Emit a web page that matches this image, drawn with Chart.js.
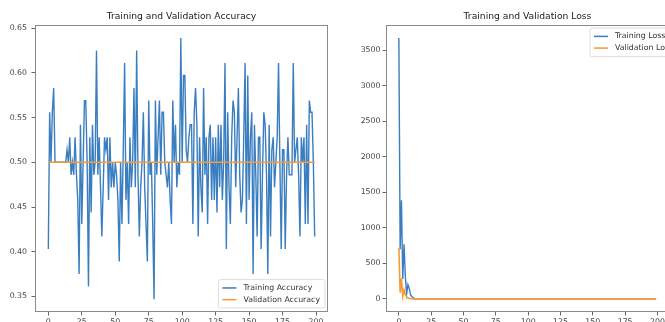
<!DOCTYPE html>
<html>
<head>
<meta charset="utf-8">
<script src="https://cdn.jsdelivr.net/npm/chart.js@4.4.1/dist/chart.umd.min.js"></script>
<style>
    body { margin: 0; background: #fff; overflow: hidden; width: 665px; height: 322px; position: relative; }
    canvas { position: absolute; top: 0; }
    #accChart { left: 0; }
    #lossChart { left: 345px; }
</style>
</head>
<body>
<canvas id="accChart" width="335" height="322"></canvas>
<canvas id="lossChart" width="340" height="322"></canvas>
<script>
// values, one per epoch (0..199)
const trainAcc = [
    0.403, 0.556, 0.500, 0.556, 0.583, 0.500, 0.500, 0.500, 0.500, 0.500, 0.500, 0.500, 0.500, 0.500, 0.514, 0.500, 0.528, 0.486, 0.500, 0.486,
    0.528, 0.486, 0.458, 0.375, 0.542, 0.431, 0.500, 0.569, 0.569, 0.500, 0.361, 0.528, 0.444, 0.542, 0.486, 0.500, 0.625, 0.486, 0.528, 0.472,
    0.417, 0.472, 0.528, 0.514, 0.528, 0.458, 0.528, 0.472, 0.500, 0.472, 0.500, 0.486, 0.458, 0.389, 0.500, 0.431, 0.514, 0.611, 0.458, 0.500,
    0.431, 0.528, 0.472, 0.500, 0.583, 0.472, 0.625, 0.486, 0.417, 0.472, 0.500, 0.556, 0.472, 0.431, 0.389, 0.569, 0.486, 0.500, 0.431, 0.347,
    0.569, 0.486, 0.528, 0.569, 0.486, 0.556, 0.556, 0.500, 0.486, 0.472, 0.500, 0.458, 0.431, 0.569, 0.500, 0.542, 0.472, 0.500, 0.486, 0.639,
    0.500, 0.597, 0.597, 0.514, 0.500, 0.528, 0.542, 0.542, 0.431, 0.556, 0.583, 0.542, 0.417, 0.528, 0.472, 0.444, 0.583, 0.486, 0.528, 0.431,
    0.528, 0.542, 0.458, 0.528, 0.458, 0.528, 0.444, 0.542, 0.472, 0.542, 0.458, 0.500, 0.611, 0.403, 0.556, 0.472, 0.431, 0.528, 0.569, 0.556,
    0.472, 0.528, 0.583, 0.486, 0.444, 0.458, 0.528, 0.611, 0.431, 0.597, 0.458, 0.528, 0.556, 0.375, 0.542, 0.486, 0.417, 0.528, 0.528, 0.403,
    0.486, 0.556, 0.542, 0.486, 0.375, 0.542, 0.417, 0.514, 0.528, 0.472, 0.500, 0.528, 0.611, 0.500, 0.403, 0.514, 0.514, 0.403, 0.486, 0.528,
    0.486, 0.486, 0.486, 0.611, 0.500, 0.514, 0.528, 0.486, 0.417, 0.528, 0.500, 0.528, 0.431, 0.542, 0.431, 0.569, 0.556, 0.556, 0.500, 0.417
];

const valAcc = [
    0.5, 0.5, 0.5, 0.5, 0.5, 0.5, 0.5, 0.5, 0.5, 0.5, 0.5, 0.5, 0.5, 0.5, 0.5, 0.5, 0.5, 0.5, 0.5, 0.5,
    0.5, 0.5, 0.5, 0.5, 0.5, 0.5, 0.5, 0.5, 0.5, 0.5, 0.5, 0.5, 0.5, 0.5, 0.5, 0.5, 0.5, 0.5, 0.5, 0.5,
    0.5, 0.5, 0.5, 0.5, 0.5, 0.5, 0.5, 0.5, 0.5, 0.5, 0.5, 0.5, 0.5, 0.5, 0.5, 0.5, 0.5, 0.5, 0.5, 0.5,
    0.5, 0.5, 0.5, 0.5, 0.5, 0.5, 0.5, 0.5, 0.5, 0.5, 0.5, 0.5, 0.5, 0.5, 0.5, 0.5, 0.5, 0.5, 0.5, 0.5,
    0.5, 0.5, 0.5, 0.5, 0.5, 0.5, 0.5, 0.5, 0.5, 0.5, 0.5, 0.5, 0.5, 0.5, 0.5, 0.5, 0.5, 0.5, 0.5, 0.5,
    0.5, 0.5, 0.5, 0.5, 0.5, 0.5, 0.5, 0.5, 0.5, 0.5, 0.5, 0.5, 0.5, 0.5, 0.5, 0.5, 0.5, 0.5, 0.5, 0.5,
    0.5, 0.5, 0.5, 0.5, 0.5, 0.5, 0.5, 0.5, 0.5, 0.5, 0.5, 0.5, 0.5, 0.5, 0.5, 0.5, 0.5, 0.5, 0.5, 0.5,
    0.5, 0.5, 0.5, 0.5, 0.5, 0.5, 0.5, 0.5, 0.5, 0.5, 0.5, 0.5, 0.5, 0.5, 0.5, 0.5, 0.5, 0.5, 0.5, 0.5,
    0.5, 0.5, 0.5, 0.5, 0.5, 0.5, 0.5, 0.5, 0.5, 0.5, 0.5, 0.5, 0.5, 0.5, 0.5, 0.5, 0.5, 0.5, 0.5, 0.5,
    0.5, 0.5, 0.5, 0.5, 0.5, 0.5, 0.5, 0.5, 0.5, 0.5, 0.5, 0.5, 0.5, 0.5, 0.5, 0.5, 0.5, 0.5, 0.5, 0.5
];

const trainLoss = [
    3670, 700, 1390, 280, 770, 320, 70, 200, 150, 60, 35, 20, 8, 3, 1.2, 0.69, 0.69, 0.69, 0.69, 0.69,
    0.69, 0.69, 0.69, 0.69, 0.69, 0.69, 0.69, 0.69, 0.69, 0.69, 0.69, 0.69, 0.69, 0.69, 0.69, 0.69, 0.69, 0.69, 0.69, 0.69,
    0.69, 0.69, 0.69, 0.69, 0.69, 0.69, 0.69, 0.69, 0.69, 0.69, 0.69, 0.69, 0.69, 0.69, 0.69, 0.69, 0.69, 0.69, 0.69, 0.69,
    0.69, 0.69, 0.69, 0.69, 0.69, 0.69, 0.69, 0.69, 0.69, 0.69, 0.69, 0.69, 0.69, 0.69, 0.69, 0.69, 0.69, 0.69, 0.69, 0.69,
    0.69, 0.69, 0.69, 0.69, 0.69, 0.69, 0.69, 0.69, 0.69, 0.69, 0.69, 0.69, 0.69, 0.69, 0.69, 0.69, 0.69, 0.69, 0.69, 0.69,
    0.69, 0.69, 0.69, 0.69, 0.69, 0.69, 0.69, 0.69, 0.69, 0.69, 0.69, 0.69, 0.69, 0.69, 0.69, 0.69, 0.69, 0.69, 0.69, 0.69,
    0.69, 0.69, 0.69, 0.69, 0.69, 0.69, 0.69, 0.69, 0.69, 0.69, 0.69, 0.69, 0.69, 0.69, 0.69, 0.69, 0.69, 0.69, 0.69, 0.69,
    0.69, 0.69, 0.69, 0.69, 0.69, 0.69, 0.69, 0.69, 0.69, 0.69, 0.69, 0.69, 0.69, 0.69, 0.69, 0.69, 0.69, 0.69, 0.69, 0.69,
    0.69, 0.69, 0.69, 0.69, 0.69, 0.69, 0.69, 0.69, 0.69, 0.69, 0.69, 0.69, 0.69, 0.69, 0.69, 0.69, 0.69, 0.69, 0.69, 0.69,
    0.69, 0.69, 0.69, 0.69, 0.69, 0.69, 0.69, 0.69, 0.69, 0.69, 0.69, 0.69, 0.69, 0.69, 0.69, 0.69, 0.69, 0.69, 0.69, 0.69
];

const valLoss = [
    720, 90, 290, 40, 130, 60, 30, 15, 8, 4, 2, 1, 0.8, 0.7, 0.69, 0.69, 0.69, 0.69, 0.69, 0.69,
    0.69, 0.69, 0.69, 0.69, 0.69, 0.69, 0.69, 0.69, 0.69, 0.69, 0.69, 0.69, 0.69, 0.69, 0.69, 0.69, 0.69, 0.69, 0.69, 0.69,
    0.69, 0.69, 0.69, 0.69, 0.69, 0.69, 0.69, 0.69, 0.69, 0.69, 0.69, 0.69, 0.69, 0.69, 0.69, 0.69, 0.69, 0.69, 0.69, 0.69,
    0.69, 0.69, 0.69, 0.69, 0.69, 0.69, 0.69, 0.69, 0.69, 0.69, 0.69, 0.69, 0.69, 0.69, 0.69, 0.69, 0.69, 0.69, 0.69, 0.69,
    0.69, 0.69, 0.69, 0.69, 0.69, 0.69, 0.69, 0.69, 0.69, 0.69, 0.69, 0.69, 0.69, 0.69, 0.69, 0.69, 0.69, 0.69, 0.69, 0.69,
    0.69, 0.69, 0.69, 0.69, 0.69, 0.69, 0.69, 0.69, 0.69, 0.69, 0.69, 0.69, 0.69, 0.69, 0.69, 0.69, 0.69, 0.69, 0.69, 0.69,
    0.69, 0.69, 0.69, 0.69, 0.69, 0.69, 0.69, 0.69, 0.69, 0.69, 0.69, 0.69, 0.69, 0.69, 0.69, 0.69, 0.69, 0.69, 0.69, 0.69,
    0.69, 0.69, 0.69, 0.69, 0.69, 0.69, 0.69, 0.69, 0.69, 0.69, 0.69, 0.69, 0.69, 0.69, 0.69, 0.69, 0.69, 0.69, 0.69, 0.69,
    0.69, 0.69, 0.69, 0.69, 0.69, 0.69, 0.69, 0.69, 0.69, 0.69, 0.69, 0.69, 0.69, 0.69, 0.69, 0.69, 0.69, 0.69, 0.69, 0.69,
    0.69, 0.69, 0.69, 0.69, 0.69, 0.69, 0.69, 0.69, 0.69, 0.69, 0.69, 0.69, 0.69, 0.69, 0.69, 0.69, 0.69, 0.69, 0.69, 0.69
];

// tick labels
const epochTicks = [0, 25, 50, 75, 100, 125, 150, 175, 200];
const accTicks = [0.35, 0.40, 0.45, 0.50, 0.55, 0.60, 0.65];
const lossTicks = [0, 500, 1000, 1500, 2000, 2500, 3000, 3500];

// epoch numbers for the x axis
const epochs = [];
for (let i = 0; i < trainAcc.length; i++) {
    epochs.push(i);
}

const BLUE = '#3a7ebf';
const ORANGE = '#f39a3b';
const FONT = 'DejaVu Sans';

// matplotlib-like frame round the plot area
const frameBox = {
    id: 'frameBox',
    afterDatasetsDraw(chart) {
        const a = chart.chartArea;
        const ctx = chart.ctx;
        ctx.save();
        ctx.strokeStyle = '#8a8a8a';
        ctx.lineWidth = 1;
        ctx.strokeRect(Math.round(a.left) + 0.5, Math.round(a.top) + 0.5,
            Math.round(a.right - a.left) - 1, Math.round(a.bottom - a.top) - 1);
        ctx.restore();
    }
};

// legend drawn inside the plot area, like plt.legend()
const boxLegend = {
    id: 'boxLegend',
    afterDraw(chart, args, opts) {
        const ctx = chart.ctx;
        const a = chart.chartArea;
        const items = chart.data.datasets;
        ctx.save();
        ctx.font = opts.fontSize + 'px ' + FONT;
        const textW = Math.max(...items.map(d => ctx.measureText(d.label).width));
        const rowH = opts.rowHeight;
        const w = 4 + 14 + 7 + textW + 5;
        const h = items.length * rowH + 5;
        const x = opts.left != null ? a.left + opts.left : a.right - 3 - w;
        const y = opts.corner === 'top' ? a.top + 3 : a.bottom - 4 - h;

        ctx.fillStyle = 'rgba(255,255,255,0.85)';
        ctx.strokeStyle = '#d4d4d4';
        ctx.lineWidth = 0.8;
        ctx.beginPath();
        ctx.roundRect(x, y, w, h, 2);
        ctx.fill();
        ctx.stroke();

        items.forEach((d, i) => {
            const cy = y + 2.5 + rowH * (i + 0.5);
            ctx.strokeStyle = d.borderColor;
            ctx.lineWidth = 1.5;
            ctx.beginPath();
            ctx.moveTo(x + 4, cy);
            ctx.lineTo(x + 18, cy);
            ctx.stroke();
            ctx.fillStyle = '#333';
            ctx.textBaseline = 'middle';
            ctx.fillText(d.label, x + 25, cy);
        });
        ctx.restore();
    }
};

function makeChart(canvasId, opts) {
    const ctx = document.getElementById(canvasId).getContext('2d');
    return new Chart(ctx, {
        type: 'line',
        data: {
            labels: epochs,
            datasets: [{
                label: opts.labels[0],
                data: opts.series[0],
                borderColor: BLUE,
                borderWidth: 1.4,
                pointRadius: 0,
                order: 1
            }, {
                label: opts.labels[1],
                data: opts.series[1],
                borderColor: ORANGE,
                borderWidth: 1.6,
                pointRadius: 0,
                order: 0
            }]
        },
        options: {
            responsive: false,
            animation: false,
            devicePixelRatio: 1,
            layout: { padding: { left: 0, right: opts.padRight, top: 0, bottom: 0 } },
            scales: {
                x: {
                    type: 'linear',
                    min: -9.95,
                    max: 208.95,
                    afterBuildTicks: s => { s.ticks = epochTicks.map(v => ({ value: v })); },
                    afterFit: s => { s.height = 10; },
                    grid: { drawOnChartArea: false, drawTicks: true, tickLength: 3.5, color: '#666' },
                    border: { display: false },
                    ticks: {
                        font: { family: FONT, size: 7.8 },
                        color: '#444',
                        padding: 2,
                        maxRotation: 0,
                        autoSkip: false,
                        callback: v => String(v)
                    }
                },
                y: {
                    min: opts.yMin,
                    max: opts.yMax,
                    afterBuildTicks: s => { s.ticks = opts.yTicks.map(v => ({ value: v })); },
                    afterFit: s => { s.width = opts.yWidth; },
                    grid: { drawOnChartArea: false, drawTicks: true, tickLength: 3.5, color: '#666' },
                    border: { display: false },
                    ticks: {
                        font: { family: FONT, size: 7.8 },
                        color: '#444',
                        padding: opts.yPad,
                        autoSkip: false,
                        callback: opts.yFormat
                    }
                }
            },
            plugins: {
                legend: { display: false },
                tooltip: { enabled: false },
                title: {
                    display: true,
                    text: opts.title,
                    fullSize: false,
                    color: '#222',
                    font: { family: FONT, size: 9.2, weight: 'normal' },
                    padding: { top: 11.3, bottom: 2.7 }
                },
                boxLegend: { corner: opts.legendCorner, left: opts.legendLeft, fontSize: 7.8, rowHeight: 11.7 }
            }
        },
        plugins: [frameBox, boxLegend]
    });
}

makeChart('accChart', {
    title: 'Training and Validation Accuracy',
    labels: ['Training Accuracy', 'Validation Accuracy'],
    series: [trainAcc, valAcc],
    yMin: 0.3326,
    yMax: 0.6535,
    yTicks: accTicks,
    yFormat: v => v.toFixed(2),
    yWidth: 35,
    yPad: 4.5,
    padRight: 7,
    legendCorner: 'bottom'
});

makeChart('lossChart', {
    title: 'Training and Validation Loss',
    labels: ['Training Loss', 'Validation Loss'],
    series: [trainLoss, valLoss],
    yMin: -183.5,
    yMax: 3853.5,
    yTicks: lossTicks,
    yFormat: v => String(v),
    yWidth: 41,
    yPad: 2,
    padRight: 16,
    legendCorner: 'top',
    legendLeft: 204
});
</script>
</body>
</html>
